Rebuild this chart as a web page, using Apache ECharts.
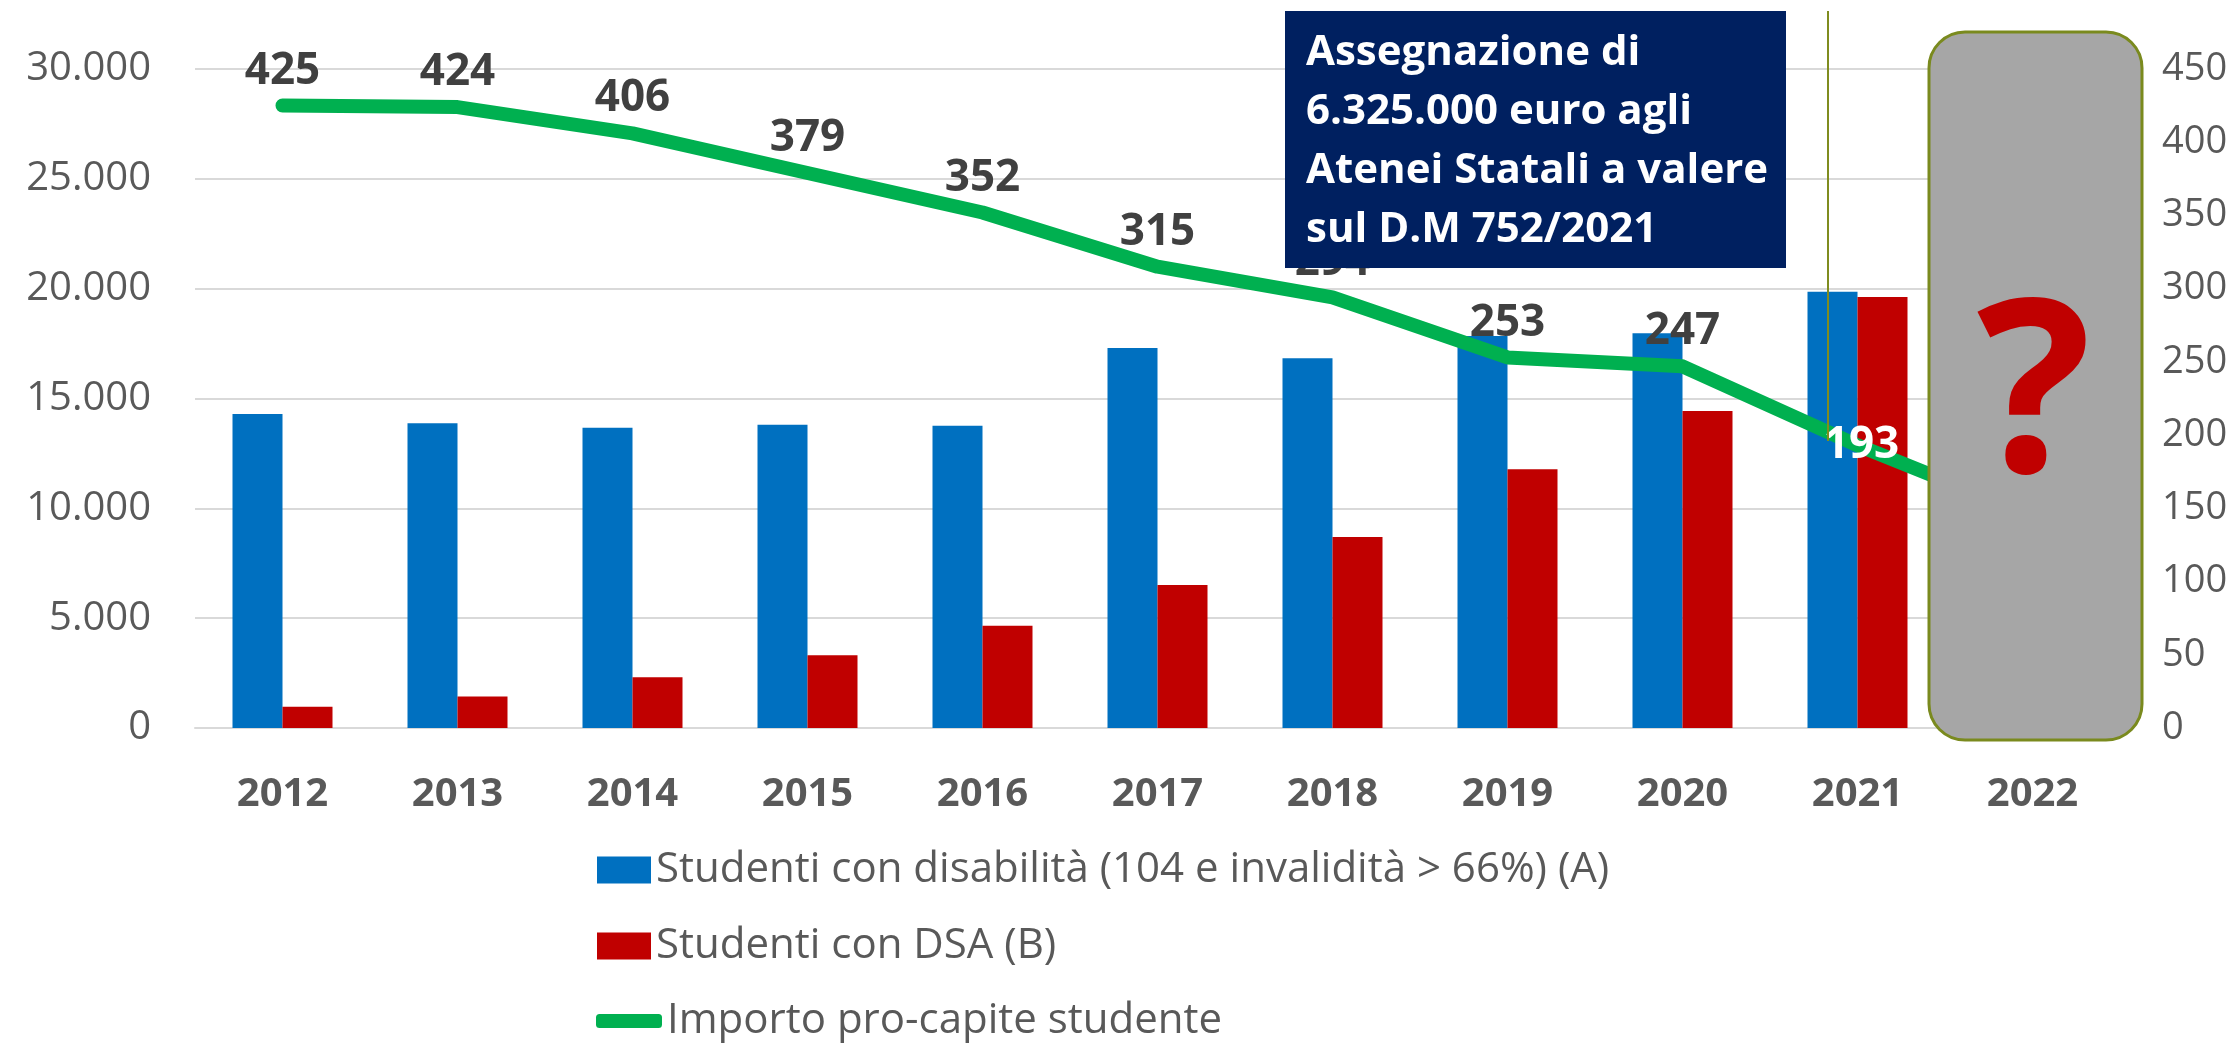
<!DOCTYPE html>
<html>
<head>
<meta charset="utf-8">
<script src="https://cdn.jsdelivr.net/npm/echarts@6/dist/echarts.min.js"></script>
<style>
  html, body { margin: 0; padding: 0; background: #fff; }
  #chart { width: 2233px; height: 1043px; }
</style>
</head>
<body>
<div id="chart"></div>
<script>
  // dati
  const anni = ['2012', '2013', '2014', '2015', '2016', '2017', '2018', '2019', '2020', '2021', '2022']
  const disabili = [14300, 13870, 13670, 13810, 13760, 17300, 16830, 17840, 17970, 19860, '-']
  const dsa = [970, 1430, 2310, 3310, 4660, 6510, 8690, 11780, 14430, 19620, '-']
  const proCapite = [425, 424, 406, 379, 352, 315, 294, 253, 247, 193, 145]
  const tickSx = [0, 5000, 10000, 15000, 20000, 25000, 30000]

  const nomeA = 'Studenti con disabilità (104 e invalidità > 66%) (A)'
  const nomeB = 'Studenti con DSA (B)'
  const nomeC = 'Importo pro-capite studente'

  const font = 'Open Sans'
  const grigio = '#595959'

  const chart = echarts.init(document.getElementById('chart'))

  // formato italiano: 30.000
  const fmt = (v) => String(v).replace(/\B(?=(\d{3})+(?!\d))/g, '.')

  const legendBase = {
    left: 592,
    orient: 'vertical',
    itemWidth: 54,
    itemHeight: 27,
    itemGap: 20,
    itemTextGap: 6,
    icon: 'rect',
    selectedMode: false,
    textStyle: { fontFamily: font, fontSize: 42, color: grigio }
  }

  const option = {
    animation: false,
    backgroundColor: '#fff',
    textStyle: { fontFamily: font },
    grid: { left: 195, right: 113, top: 69, bottom: 315 },
    legend: [
      { ...legendBase, top: 844, data: [nomeA] },
      { ...legendBase, top: 920, data: [nomeB] },
      { ...legendBase, top: 995, left: 591, data: [nomeC], icon: 'roundRect', itemWidth: 66, itemHeight: 14, itemTextGap: 1 }
    ],
    xAxis: {
      type: 'category',
      data: anni,
      axisTick: { show: false },
      axisLine: { lineStyle: { color: '#D9D9D9', width: 2 } },
      axisLabel: { color: grigio, fontFamily: font, fontSize: 40, fontWeight: 'bold', margin: 47 }
    },
    yAxis: [
      {
        type: 'value',
        min: tickSx[0],
        max: tickSx[tickSx.length - 1],
        interval: 5000,
        axisLine: { show: false },
        axisTick: { show: false },
        splitLine: { lineStyle: { color: '#D9D9D9', width: 2 } },
        axisLabel: { color: grigio, fontFamily: font, fontSize: 40, margin: 44, formatter: fmt }
      },
      {
        type: 'value',
        min: 0,
        max: 450,
        interval: 50,
        axisLine: { show: false },
        axisTick: { show: false },
        splitLine: { show: false },
        axisLabel: { color: grigio, fontFamily: font, fontSize: 38, margin: 42 }
      }
    ],
    series: [
      {
        name: nomeA,
        type: 'bar',
        data: disabili,
        barWidth: 50,
        barGap: '0%',
        itemStyle: { color: '#0070C0' }
      },
      {
        name: nomeB,
        type: 'bar',
        data: dsa,
        barWidth: 50,
        itemStyle: { color: '#C00000' }
      },
      {
        name: nomeC,
        type: 'line',
        yAxisIndex: 1,
        z: 5,
        symbol: 'circle',
        symbolSize: 1,
        itemStyle: { color: '#00B050' },
        lineStyle: { color: '#00B050', width: 14, cap: 'round', join: 'round' },
        label: {
          show: true,
          position: 'top',
          distance: 12,
          color: '#404040',
          fontFamily: font,
          fontSize: 44,
          fontWeight: 'bold'
        },
        // 2021: etichetta bianca sopra la linea
        data: proCapite.map((v, i) =>
          anni[i] === '2021'
            ? { value: v, label: { position: 'inside', color: '#fff', offset: [4, 0] } }
            : v
        )
      }
    ],
    graphic: [
      {
        type: 'rect',
        z: 100,
        shape: { x: 1285, y: 11, width: 501, height: 257 },
        style: { fill: '#002060' }
      },
      {
        type: 'text',
        z: 101,
        left: 1306,
        top: 24,
        style: {
          text: 'Assegnazione di\n6.325.000 euro agli\nAtenei Statali a valere\nsul D.M 752/2021',
          fill: '#fff',
          font: 'bold 42px "Open Sans"',
          lineHeight: 59
        }
      },
      {
        type: 'line',
        z: 100,
        shape: { x1: 1828, y1: 11, x2: 1828, y2: 441 },
        style: { stroke: '#7F8C1F', lineWidth: 2 }
      },
      {
        type: 'rect',
        z: 100,
        shape: { x: 1929, y: 32, width: 213, height: 708, r: 36 },
        style: { fill: '#A6A6A6', stroke: '#7A8A1E', lineWidth: 3 }
      },
      {
        type: 'text',
        z: 101,
        x: 2034,
        y: 404,
        style: {
          text: '?',
          fill: '#C00000',
          font: 'bold 240px "Open Sans"',
          align: 'center',
          verticalAlign: 'middle'
        }
      }
    ]
  }

  chart.setOption(option)
</script>
</body>
</html>
